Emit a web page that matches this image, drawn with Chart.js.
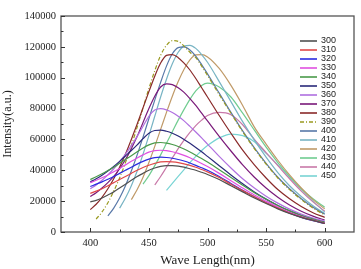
<!DOCTYPE html>
<html>
<head>
<meta charset="utf-8">
<script src="https://cdn.jsdelivr.net/npm/chart.js@4.4.1/dist/chart.umd.min.js"></script>
<style>
html,body{margin:0;padding:0;background:#fff;}
#wrap{width:361px;height:269px;}
</style>
</head>
<body>
<div id="wrap"><canvas id="c" width="361" height="269"></canvas></div>
<script>
// Emission wavelengths (nm)
const wl = [400,405,410,415,420,425,430,435,440,445,450,455,460,465,470,475,480,485,490,495,500,510,520,530,540,550,560,570,580,590,600];
// Excitation wavelengths (legend labels)
const labels = ['300','310','320','330','340','350','360','370','380','390','400','410','420','430','440','450'];
const s300 = [19500,20500,22000,24000,26000,28500,31000,33500,36000,38000,40000,41500,42500,43000,43000,42700,42000,41000,40000,38700,37300,34000,30000,26000,22000,18500,15000,12000,9500,7500,5500];
const s310 = [25000,26500,28000,30000,32000,34000,36000,38000,40000,41800,43300,44500,45400,45600,45400,45000,44200,43200,42000,40500,39000,35300,31000,26800,22800,19000,15500,12300,9600,7500,5600];
const s320 = [29500,31000,32500,34200,36000,38000,40000,42000,44000,45800,47200,48200,48500,48300,47800,47000,46000,44700,43200,41600,40000,36000,31500,27000,22800,19000,15400,12200,9500,7300,5500];
const s330 = [32000,33500,35200,37000,39000,41200,43500,45800,48000,50000,51800,52800,53000,52700,52000,51000,49700,48100,46300,44400,42400,38000,33200,28500,24000,20000,16200,12800,10000,7700,5800];
const s340 = [34000,35800,37700,39800,42000,44500,47000,49500,52000,54500,56500,57800,58000,57600,56700,55400,53800,51900,49800,47600,45300,40400,35300,30300,25500,21200,17200,13700,10700,8300,6300];
const s350 = [32500,34500,36800,39500,42500,45800,49300,52800,56500,60500,64000,65800,66000,65300,64000,62200,60000,57500,54800,52000,49000,43000,37000,31300,26000,21300,17200,13700,10700,8200,6200];
const s360 = [28000,30500,33500,37000,41000,45500,50500,56000,62000,68500,75000,79000,80000,79200,77500,75000,72000,68500,64800,61000,57000,49000,41500,34500,28500,23200,18700,14800,11600,9000,7000];
const s370 = [23000,25500,28500,32000,36000,41000,47000,54000,62000,71000,80000,88000,94000,96000,95500,93500,90500,86500,82000,77000,72000,62000,52500,43500,35500,28500,22500,17500,13500,10300,7800];
const s380 = [14500,18000,22500,28000,34500,42000,50500,60000,70000,80500,91000,101000,109500,114500,115000,113000,109500,105000,99500,93500,87500,75500,64000,53000,43500,35000,27500,21500,16500,12500,9500];
const s390 = [null,8400,13000,19000,26500,35000,45000,56000,68000,80500,93000,104500,114500,121000,124000,123500,120500,116500,113000,107500,101500,89000,77000,65000,54000,44000,35000,27500,21000,15500,11000];
const s400 = [null,null,null,10400,15500,22000,30000,39500,50000,61500,73500,85500,97000,107500,115500,119500,120000,118000,114000,108500,102500,90000,77500,65500,54500,44500,35500,28000,21500,16000,11500];
const s410 = [null,null,null,null,null,15500,22000,30000,39500,50500,62500,75000,87500,99000,109000,116500,120500,121000,119000,115000,110000,97500,84500,71500,59500,48500,38500,30000,23000,17000,12000];
const s420 = [null,null,null,null,null,null,null,21000,27500,35500,45000,55500,66500,77500,88000,97500,105500,111500,114800,115000,113500,106000,95000,82000,68000,57000,46500,37000,28500,21000,15000];
const s430 = [null,null,null,null,null,null,null,null,null,31000,36500,43000,50000,57500,65000,72500,79500,86000,91500,95000,96500,94000,87500,77000,66000,55000,45000,36000,28000,21500,16000];
const s440 = [null,null,null,null,null,null,null,null,null,null,null,30500,36000,42000,48000,54000,59500,64500,69000,72500,75500,77500,76000,69500,60000,51500,43000,34500,26500,19500,13500];
const s450 = [null,null,null,null,null,null,null,null,null,null,null,null,null,27000,31500,36000,40500,45000,49000,52800,56000,61000,63500,62500,58500,51000,43500,35500,27500,20000,13000];
const series = [s300,s310,s320,s330,s340,s350,s360,s370,s380,s390,s400,s410,s420,s430,s440,s450];
const colors = ['#505050','#e04848','#2a2ae0','#e050e0','#4a9a4a','#2a2a7a','#b070e0','#7a1a7a','#8a2a2a','#9a9a20','#5878a8','#78b4c4','#c09a68','#70cc90','#c878a8','#78d4d4'];
const xTicks = [400,450,500,550,600];
const xMinor = [425,475,525,575];
const yTicks = [0,20000,40000,60000,80000,100000,120000,140000];
const yMinor = [10000,30000,50000,70000,90000,110000,130000];

const datasets = series.map((s,i)=>({
  label: labels[i],
  data: wl.map((w,j)=>({x:w,y:s[j]})).filter(p=>p.y!==null),
  borderColor: colors[i],
  borderWidth: 1.2,
  borderDash: labels[i]==='390' ? [4,2,1,2] : [],
  pointRadius: 0,
  fill: false,
  cubicInterpolationMode: 'monotone'
}));

const framePlugin = {
  id: 'frame',
  afterDraw(chart){
    const {ctx, chartArea:a, scales:{x,y}} = chart;
    ctx.save();
    ctx.strokeStyle = '#555';
    ctx.lineWidth = 1.3;
    ctx.strokeRect(a.left, a.top, a.right-a.left, a.bottom-a.top);
    ctx.lineWidth = 1;
    ctx.strokeStyle = '#333';
    const tx = (v,len)=>{const p=Math.round(x.getPixelForValue(v))+0.5;ctx.beginPath();ctx.moveTo(p,a.bottom);ctx.lineTo(p,a.bottom-len);ctx.stroke();};
    const ty = (v,len)=>{const p=Math.round(y.getPixelForValue(v))+0.5;ctx.beginPath();ctx.moveTo(a.left,p);ctx.lineTo(a.left+len,p);ctx.stroke();};
    xTicks.forEach(v=>tx(v,4)); xMinor.forEach(v=>tx(v,2.5));
    yTicks.forEach(v=>ty(v,4)); yMinor.forEach(v=>ty(v,2.5));
    // legend
    ctx.font = '9px "Liberation Sans", Arial, sans-serif';
    ctx.textBaseline = 'middle';
    ctx.textAlign = 'left';
    chart.data.datasets.forEach((d,i)=>{
      const yy = 41 + i*9;
      ctx.strokeStyle = d.borderColor;
      ctx.lineWidth = 1.6;
      ctx.setLineDash(d.borderDash||[]);
      ctx.beginPath(); ctx.moveTo(300,yy); ctx.lineTo(317,yy); ctx.stroke();
      ctx.setLineDash([]);
      ctx.fillStyle = '#222';
      ctx.fillText(d.label, 321, yy);
    });
    ctx.restore();
  }
};

const serifFont = '"Liberation Serif", "Times New Roman", serif';
new Chart(document.getElementById('c'), {
  type: 'line',
  data: { datasets },
  options: {
    responsive: false,
    animation: false,
    layout: { padding: { top: 16, right: 7, left: 0, bottom: 0 } },
    plugins: { legend: { display: false }, tooltip: { enabled: false } },
    scales: {
      x: {
        type: 'linear', min: 375, max: 625,
        afterBuildTicks: s => { s.ticks = xTicks.map(v=>({value:v})); },
        afterFit: s => { s.height = 37; },
        grid: { display: false, drawTicks: false },
        border: { display: false },
        ticks: { padding: 5, color: '#222', callback: v => String(v), font: { family: serifFont, size: 10.5 } },
        title: { display: true, text: 'Wave Length(nm)', color: '#222', padding: { top: 0, bottom: 1 }, font: { family: serifFont, size: 13 } }
      },
      y: {
        min: 0, max: 140000,
        afterBuildTicks: s => { s.ticks = yTicks.map(v=>({value:v})); },
        afterFit: s => { s.width = 61; },
        grid: { display: false, drawTicks: false },
        border: { display: false },
        ticks: { padding: 5, color: '#222', callback: v => String(v), font: { family: serifFont, size: 10.5 } },
        title: { display: true, text: 'Intensity(a.u.)', color: '#222', padding: { top: 1, bottom: 0 }, font: { family: serifFont, size: 12 } }
      }
    }
  },
  plugins: [framePlugin]
});
</script>
</body>
</html>
